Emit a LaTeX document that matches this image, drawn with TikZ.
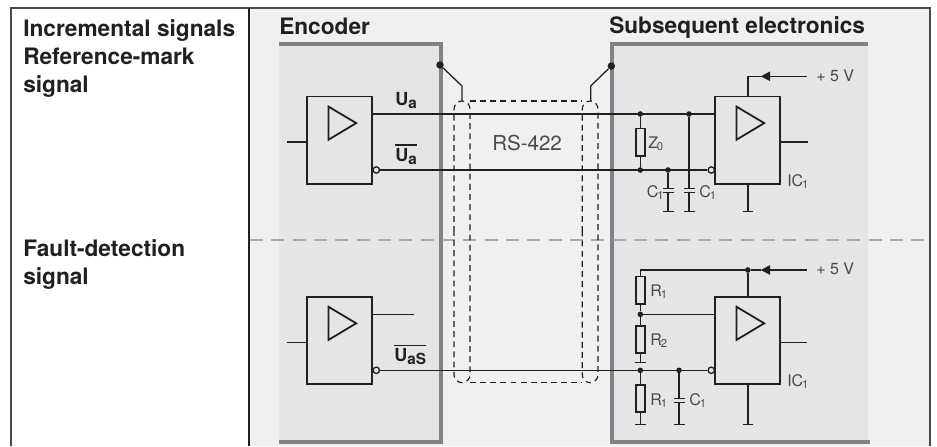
\documentclass[tikz,border=0pt]{standalone}
\usepackage{fontspec}
\setmainfont{TeX Gyre Heros}
\usetikzlibrary{arrows.meta}
\definecolor{panel}{HTML}{F0F0F0}
\definecolor{inner}{HTML}{E4E5E7}
\definecolor{bar}{HTML}{808285}
\definecolor{ink}{HTML}{231F20}
\definecolor{soft}{HTML}{4A4A4C}
\definecolor{sep}{HTML}{A7A9AC}
\newcommand{\lowsub}[2]{\raisebox{-#1}{#2}}
\newcommand{\ovbar}[1]{\vbox{\hrule height 1.1pt\kern 1.6pt\hbox{#1}}}
\newcommand{\Bsub}[1]{\lowsub{2.4pt}{\fontsize{11.5pt}{12pt}\selectfont #1}}
\newcommand{\Ssub}[1]{\kern-0.8pt\lowsub{2.2pt}{\fontsize{8.5pt}{9pt}\selectfont #1}}
\tikzset{
  x=0.75pt,y=-0.75pt,
  head/.style={anchor=base west,inner sep=0,text=ink,font=\fontsize{17pt}{17pt}\selectfont\bfseries},
  sig/.style={anchor=base west,inner sep=0,text=ink,font=\fontsize{13.5pt}{14pt}\selectfont\bfseries},
  lab/.style={anchor=base west,inner sep=0,text=soft,font=\fontsize{12pt}{12pt}\selectfont},
  ampbox/.style={draw=ink,line width=1.35pt,minimum width=48.75pt,minimum height=65.6pt,inner sep=0,fill=inner},
  tri/.style={draw=ink,line width=1.35pt,line join=miter},
  wire/.style={draw=ink,line width=1.15pt},
  res/.style={draw=ink,line width=1.35pt,minimum width=6.75pt,minimum height=20.5pt,inner sep=0},
  jdot/.style={circle,fill=ink,minimum size=4.2pt,inner sep=0},
  bigdot/.style={circle,fill=ink,minimum size=5.6pt,inner sep=0},
  inv/.style={circle,draw=ink,line width=1pt,fill=inner,minimum size=4.8pt,inner sep=0},
  shield/.style={draw=ink,line width=0.85pt,dash pattern=on 4.4pt off 3.2pt},
  v5arrow/.style={wire,-{Triangle[length=7pt,width=7pt]}},
  sepline/.style={draw=sep,line width=1.3pt,dash pattern=on 9.8pt off 6.2pt},
  thick bar/.style={draw=bar,line width=3pt}
}
\newcommand{\amptri}[1]{\draw[tri] ([shift={(-11.3,-33.7)}]#1.center) -- ([shift={(-11.3,-0.6)}]#1.center) -- ([shift={(16.4,-17.2)}]#1.center) -- cycle;}
\begin{document}
\begin{tikzpicture}
\useasboundingbox (0,0) rectangle (937,446);
% panels
\fill[panel] (249,8) rectangle (930,446);
\fill[inner] (279,43.5) rectangle (441,441.7);
\fill[inner] (611.5,43.5) rectangle (868,441.7);
\draw[thick bar] (279,43.5) -- (441,43.5) -- (441,441.7) -- (279,441.7);
\draw[thick bar] (868,43.5) -- (611.7,43.5) -- (611.7,441.7) -- (870,441.7);
% frame
\draw[draw=soft,line width=1.2pt] (11,446) -- (11,8) -- (930,8) -- (930,446);
\draw[draw=ink,line width=1.1pt] (249,8) -- (249,446);
% separator
\draw[sepline] (250,239.7) -- (925,239.7);
% texts
\node[head] (t1) at (23,36) {Incremental signals};
\node[head] (t2) at (23,64) {Reference-mark};
\node[head] (t3) at (23,92) {signal};
\node[head] (t4) at (23,256) {Fault-detection};
\node[head] (t5) at (23,284) {signal};
\node[head] (t6) at (279,34) {Encoder};
\node[head] (t7) at (609,33) {Subsequent electronics};
% shield
\coordinate (sTL) at (462,101);
\coordinate (sTR) at (590.7,101);
\draw[shield,rounded corners=6pt] (454,240) -- (454,101) -- (470,101) -- (470,382.7) -- (454,382.7) -- cycle;
\draw[shield,rounded corners=6pt] (582.3,240) -- (582.3,101) -- (598,101) -- (598,382.7) -- (582.3,382.7) -- cycle;
\draw[shield] (470,101) -- (582.3,101);
\draw[shield] (470,382.7) -- (582.3,382.7);
\node[bigdot] (dL) at (440,65) {};
\node[bigdot] (dR) at (611.3,66) {};
\coordinate (kL) at (462,86);
\coordinate (kR) at (590.7,86);
\draw[wire,line width=0.95pt] (dL) -- (kL) -- (sTL);
\draw[wire,line width=0.95pt] (dR) -- (kR) -- (sTR);
\node[anchor=base west,inner sep=0,text=soft,font=\fontsize{15.4pt}{16pt}\selectfont] (rs) at (492,150) {RS-422};
% upper amps
\node[ampbox] (A) at (339.8,140.3) {};
\node[ampbox] (B) at (747.8,140.3) {};
\amptri{A}\amptri{B}
\coordinate (inA) at (287,142);
\coordinate (outB) at (807.7,142);
\draw[wire] (inA) -- (inA -| A.west);
\draw[wire] (outB -| B.east) -- (outB);
\node[jdot] (jZt) at (640.3,114) {};
\node[jdot] (jCt) at (689,114) {};
\node[jdot] (jZb) at (640.3,170) {};
\node[jdot] (jCb) at (668,170) {};
\node[inv] (iA) at (376.3,170) {};
\node[inv] (iB) at (711.3,170) {};
\draw[wire] (A.east |- jZt) -- (B.west |- jZt);
\draw[wire] (iA.east) -- (iB.west);
\node[res] (Z) at (640.3,142.2) {};
\draw[wire] (jZt) -- (Z.north);
\draw[wire] (Z.south) -- (jZb);
% capacitors upper
\coordinate (g1) at (668,211.7);
\coordinate (g2) at (689,211.7);
\coordinate (g3) at (747.8,211.7);
\draw[wire] (jCb) -- (668,188.3);
\draw[wire] (668,192.7) -- (g1);
\draw[wire] (jCt) -- (689,188.3);
\draw[wire] (689,192.7) -- (g2);
\draw[wire] (663,188.3) -- (673.5,188.3) (663,192.7) -- (673.5,192.7);
\draw[wire] (684,188.3) -- (694.5,188.3) (684,192.7) -- (694.5,192.7);
\draw[wire] (663,211.7) -- (673.5,211.7) (684,211.7) -- (694.5,211.7) (742.7,211.7) -- (753.3,211.7);
\draw[wire] (B.south) -- (g3);
% +5V upper
\coordinate (v5a) at (806.7,76.3);
\coordinate (tipa) at (760.7,76.3);
\coordinate (cora) at (747.8,76.3);
\draw[v5arrow] (v5a) -- (tipa);
\draw[wire] (tipa) -- (cora) -- (B.north);
\node[lab] (v1) at (816,81) {+ 5 V};
% upper labels
\node[sig] (ua) at (395,105.5) {U\Bsub{a}};
\node[sig] (ub) at (395,161) {\ovbar{U\Bsub{a}}};
\node[lab] (lz) at (648,148) {Z\Ssub{0}};
\node[lab] (lc1) at (646.5,197) {C\Ssub{1}};
\node[lab] (lc2) at (699,197) {C\Ssub{1}};
\node[lab] (lic) at (787,186) {IC\Ssub{1}};
% lower amps
\node[ampbox] (C) at (339.8,340.5) {};
\node[ampbox] (D) at (747.8,340.5) {};
\amptri{C}\amptri{D}
\coordinate (inC) at (287,342.3);
\coordinate (outD) at (807,342.3);
\coordinate (outC) at (413.7,314.3);
\draw[wire] (inC) -- (inC -| C.west);
\draw[wire] (outD -| D.east) -- (outD);
\draw[wire] (outC -| C.east) -- (outC);
\node[inv] (iC) at (376.3,370.3) {};
\node[inv] (iD) at (711.3,370.3) {};
\draw[wire] (iC.east) -- (iD.west);
\node[jdot] (jS) at (640.3,370.3) {};
\node[jdot] (jC) at (679,370.3) {};
\node[jdot] (jM) at (640.3,314.3) {};
\node[jdot] (jV) at (747.8,270) {};
\node[res] (R1) at (640.3,290.2) {};
\node[res] (R2) at (640.3,339.5) {};
\node[res] (R3) at (640.3,398.5) {};
\coordinate (v5b) at (806.7,270);
\coordinate (tipb) at (760.7,270);
\coordinate (corb) at (640.3,270);
\draw[v5arrow] (v5b) -- (tipb);
\draw[wire] (tipb) -- (jV) -- (corb) -- (R1.north);
\draw[wire] (jV) -- (D.north);
\draw[wire] (R1.south) -- (jM) -- (R2.north);
\draw[wire] (jM) -- (jM -| D.west);
\coordinate (g4) at (640.3,362.3);
\coordinate (g5) at (640.3,424.3);
\coordinate (g6) at (679,424.3);
\coordinate (g7) at (747.8,424.3);
\draw[wire] (R2.south) -- (g4);
\draw[wire] (jS) -- (R3.north);
\draw[wire] (R3.south) -- (g5);
\draw[wire] (jC) -- (679,398.3);
\draw[wire] (679,402.5) -- (g6);
\draw[wire] (673.7,398.3) -- (684.5,398.3) (673.7,402.5) -- (684.5,402.5);
\draw[wire] (D.south) -- (g7);
\draw[wire] (635,362.3) -- (645.5,362.3) (635,424.3) -- (645.5,424.3) (673.7,424.3) -- (684.5,424.3) (742.7,424.3) -- (753.3,424.3);
\node[lab] (v2) at (816,274.5) {+ 5 V};
\node[sig] (uc) at (394,361.5) {\ovbar{U\Bsub{aS}}};
\node[lab] (lr1) at (650,296) {R\Ssub{1}};
\node[lab] (lr2) at (650,345) {R\Ssub{2}};
\node[lab] (lr3) at (650,405) {R\Ssub{1}};
\node[lab] (lc3) at (689,405) {C\Ssub{1}};
\node[lab] (lic2) at (787,386) {IC\Ssub{1}};
\end{tikzpicture}
\end{document}
